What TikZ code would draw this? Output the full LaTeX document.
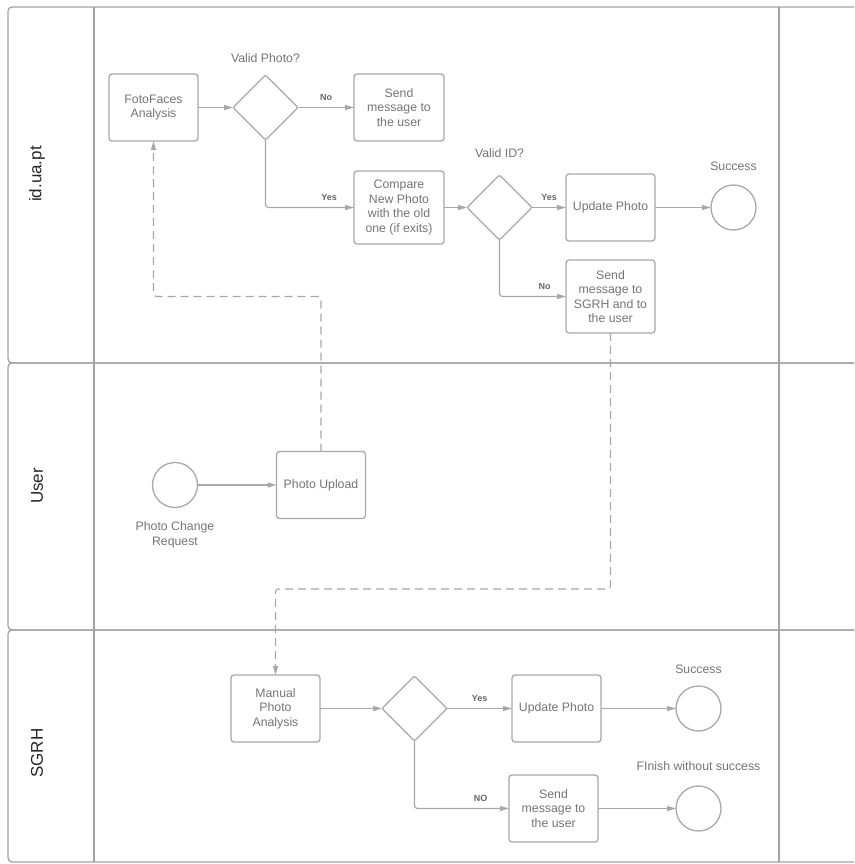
\documentclass[tikz,border=0pt]{standalone}
\usepackage{fontspec}
\setmainfont{Liberation Sans}
\usetikzlibrary{arrows.meta,positioning,shapes.geometric}
\definecolor{lane}{HTML}{A3A3A3}
\definecolor{edge}{HTML}{A8A8A8}
\definecolor{ink}{HTML}{747474}
\definecolor{tag}{HTML}{666666}

\begin{document}
\begin{tikzpicture}[x=1pt,y=-1pt,
  every node/.style={font=\fontsize{12.3}{14.5}\selectfont,align=center,text=ink},
  box/.style={draw=edge,line width=1.3pt,rounded corners=3pt,minimum width=89pt,minimum height=67pt,inner sep=2pt,outer sep=0pt},
  decision/.style={draw=edge,line width=1.3pt,diamond,minimum width=65pt,minimum height=65pt,inner sep=0pt,outer sep=0pt,rounded corners=2pt},
  event/.style={draw=edge,line width=1.3pt,circle,minimum size=45pt,inner sep=0pt,outer sep=0pt},
  flow/.style={-{Triangle[length=9pt,width=5pt]},draw=edge,line width=1.2pt,rounded corners=3pt},
  msg/.style={flow,dash pattern=on 8pt off 5pt},
  yn/.style={font=\fontsize{9}{10}\selectfont\bfseries,text=tag,above=3pt},
  lanename/.style={font=\fontsize{17}{20}\selectfont,text=black!85,rotate=90}]
\useasboundingbox (0,0) rectangle (854,864);
% swim lanes
\foreach \top/\bot in {7/363,363/630,630/862}
  \draw[lane,line width=1.3pt,rounded corners=4pt] (854,\top) -- (8,\top) -- (8,\bot) -- (854,\bot);
\draw[lane,line width=1.3pt] (94,7) -- (94,862);
\draw[lane,line width=1.3pt] (779,7) -- (779,862);
\node[lanename] (laneid) at (37,174) {id.ua.pt};
\node[lanename] (laneuser) at (37,486) {User};
\node[lanename] (lanesgrh) at (37,753) {SGRH};
% id.ua.pt
\node[box] (foto) at (153.5,107.5) {FotoFaces\\Analysis};
\node[decision,right=35pt of foto] (photook) {};
\node[above=9pt of photook] (photoq) {Valid Photo?};
\node[box,minimum width=90pt,right=56pt of photook] (reject) {Send\\message to\\the user};
\node[box,minimum width=90pt,minimum height=73pt,below=30pt of reject] (compare) {Compare\\New Photo\\with the old\\one (if exits)};
\node[decision,right=23pt of compare] (idok) {};
\node[above=14pt of idok] (idq) {Valid ID?};
\node[box,right=34pt of idok] (update) {Update Photo};
\node[event,right=56pt of update] (done) {};
\node[above=11pt of done] (donelbl) {Success};
\node[box,minimum height=73pt,below=19pt of update] (notify) {Send\\message to\\SGRH and to\\the user};
% User
\node[event] (request) at (175,485) {};
\node[below=11pt of request] (requestlbl) {Photo Change\\Request};
\node[box,right=79pt of request] (upload) {Photo Upload};
% SGRH
\node[box] (manual) at (275.5,708.5) {Manual\\Photo\\Analysis};
\node[decision,right=62pt of manual] (check) {};
\node[box,right=65pt of check] (update2) {Update Photo};
\node[event,right=75pt of update2] (done2) {};
\node[above=9pt of done2] (done2lbl) {Success};
\node[box,below=33pt of update2,xshift=-3pt] (reject2) {Send\\message to\\the user};
\node[event,right=78pt of reject2] (fail) {};
\node[above=12pt of fail] (faillbl) {FInish without success};
\coordinate (turn) at (0,589);
% connectors
\draw[flow] (foto) -- (photook);
\draw[flow] (photook) -- node[yn]{No} (reject);
\draw[flow] (photook.south) |- node[yn,pos=0.86]{Yes} (compare.west);
\draw[flow] (compare) -- (idok);
\draw[flow] (idok) -- node[yn]{Yes} (update);
\draw[flow] (idok.south) |- node[yn,pos=0.84]{No} (notify.west);
\draw[flow] (update) -- (done);
\draw[flow] (request) -- (upload);
\draw[msg] (upload.north) -- (upload.north |- notify.west) -| (foto.south);
\draw[msg] (notify.south) -- (notify.south |- turn) -| (manual.north);
\draw[flow] (manual) -- (check);
\draw[flow] (check) -- node[yn]{Yes} (update2);
\draw[flow] (check.south) |- node[yn,pos=0.85]{NO} (reject2.west);
\draw[flow] (update2) -- (done2);
\draw[flow] (reject2) -- (fail);
\end{tikzpicture}
\end{document}
